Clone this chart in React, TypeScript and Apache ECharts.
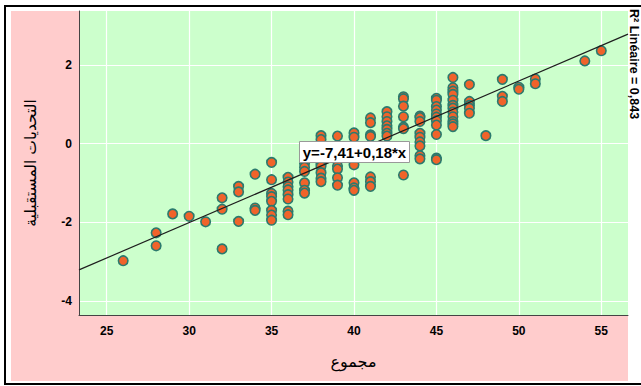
import React, { useEffect, useRef } from "react";
import * as echarts from "echarts";

// Sum score (x) and the future-challenges factor scores observed at each sum score (y)
const sumScores = [26, 28, 29, 30, 31, 32, 33, 34, 35, 36, 37, 38, 39, 40, 41, 42, 43, 44, 45, 46, 47, 48, 49, 50, 51, 54, 55];
const challengeScores: number[][] = [
  [-2.98],
  [-2.27, -2.6],
  [-1.79],
  [-1.85],
  [-1.99],
  [-1.38, -1.67, -2.68],
  [-1.09, -1.23, -1.98],
  [-0.78, -1.64, -1.7],
  [-0.48, -0.92, -1.27, -1.35, -1.47, -1.7, -1.82, -1.95],
  [-0.86, -0.98, -1.1, -1.18, -1.3, -1.41, -1.72, -1.81],
  [-0.33, -0.5, -0.6, -0.71, -1.0, -1.19, -1.26],
  [0.2, 0.1, -0.5, -0.58, -0.74, -0.88, -0.97],
  [0.19, -0.3, -0.41, -0.57, -0.65, -0.87, -1.06],
  [0.27, 0.16, -0.33, -0.46, -0.54, -1.0, -1.13, -1.19],
  [0.65, 0.53, 0.22, 0.18, -0.85, -0.97, -1.09],
  [0.81, 0.68, 0.56, 0.45, 0.36, 0.26, 0.19],
  [1.19, 1.14, 0.95, 0.68, 0.42, 0.38, -0.8],
  [0.7, 0.66, 0.56, 0.26, 0.16, 0.04, -0.06, -0.31, -0.39],
  [1.15, 1.1, 0.94, 0.85, 0.75, 0.67, 0.58, 0.47, 0.23, -0.37, -0.41],
  [1.68, 1.42, 1.33, 1.25, 1.1, 0.97, 0.9, 0.8, 0.68, 0.56, 0.5, 0.43],
  [1.5, 1.07, 0.97, 0.9, 0.77],
  [0.2],
  [1.63, 1.2, 1.07],
  [1.43, 1.38],
  [1.64, 1.52],
  [2.1],
  [2.36],
];

const xTicks = [25, 30, 35, 40, 45, 50, 55];
const yTicks = [-4, -2, 0, 2];
const xRange = [23.32, 56.62];
const yRange = [-4.36, 3.37];

const intercept = -7.41;
const slope = 0.18;
const rSquaredText = "R² Linéaire = 0,843";
const equationText = "y=-7,41+0,18*x";
const xTitle = "مجموع";
const yTitle = "التحديات المستقبلية";

const latin = "'Liberation Sans', Arial, sans-serif";
const arabic = "'DejaVu Sans', sans-serif";

export default function App() {
  const ref = useRef<HTMLDivElement>(null);

  useEffect(() => {
    if (!ref.current) return;
    const chart = echarts.init(ref.current, undefined, { renderer: "svg" });

    const points: number[][] = [];
    sumScores.forEach((x, i) => {
      challengeScores[i].forEach((y) => points.push([x, y]));
    });
    const linePts = xRange.map((x) => [x, intercept + slope * x]);

    chart.setOption({
      animation: false,
      graphic: [
        {
          type: "rect",
          z: -100,
          shape: { x: 11, y: 11, width: 617, height: 370 },
          style: { fill: "#ffcccc" },
          silent: true,
        },
        {
          type: "rect",
          z: -100,
          shape: { x: 5, y: 6, width: 700, height: 378 },
          style: { fill: "none", stroke: "#000", lineWidth: 2 },
          silent: true,
        },
        {
          type: "rect",
          z: 100,
          shape: { x: 299.5, y: 141.5, width: 110, height: 21 },
          style: { fill: "#ffffff", stroke: "#999999", lineWidth: 1 },
        },
        {
          type: "text",
          z: 101,
          x: 354.5,
          y: 152.5,
          style: {
            text: equationText,
            fill: "#000",
            font: `bold 15px ${latin}`,
            align: "center",
            verticalAlign: "middle",
          },
        },
        {
          type: "text",
          z: 101,
          x: 634,
          y: 9,
          rotation: -Math.PI / 2,
          style: {
            text: rSquaredText,
            fill: "#000",
            font: `bold 12.5px ${latin}`,
            align: "left",
            verticalAlign: "middle",
          },
        },
      ],
      grid: {
        left: 79,
        top: 11,
        width: 549,
        height: 304,
        show: true,
        backgroundColor: "#ccffcc",
        borderWidth: 0,
      },
      xAxis: {
        type: "value",
        min: xRange[0],
        max: xRange[1],
        name: xTitle,
        nameLocation: "middle",
        nameGap: 38,
        nameTextStyle: { fontFamily: arabic, fontSize: 16, color: "#000" },
        axisLine: { show: true, onZero: false, lineStyle: { color: "#444", width: 1 } },
        axisTick: { show: false, customValues: xTicks },
        axisLabel: {
          customValues: xTicks,
          margin: 10,
          fontFamily: latin,
          fontWeight: "bold",
          fontSize: 12,
          color: "#000",
        },
        splitLine: { show: true, lineStyle: { color: "#ffffff", width: 1.2 } },
      },
      yAxis: {
        type: "value",
        min: yRange[0],
        max: yRange[1],
        name: yTitle,
        nameLocation: "middle",
        nameRotate: 90,
        nameGap: 40,
        nameTextStyle: { fontFamily: arabic, fontSize: 15.5, color: "#000" },
        axisLine: { show: true, onZero: false, lineStyle: { color: "#444", width: 1 } },
        axisTick: { show: false, customValues: yTicks },
        axisLabel: {
          customValues: yTicks,
          margin: 7,
          fontFamily: latin,
          fontWeight: "bold",
          fontSize: 12,
          color: "#000",
        },
        splitLine: { show: true, lineStyle: { color: "#ffffff", width: 1.2 } },
      },
      series: [
        {
          type: "scatter",
          data: points,
          symbol: "circle",
          symbolSize: 9.5,
          itemStyle: { color: "#f0632a", borderColor: "#2b7a6e", borderWidth: 1.6, opacity: 1 },
          z: 2,
        },
        {
          type: "line",
          data: linePts,
          showSymbol: false,
          symbol: "none",
          lineStyle: { color: "#1e1e1e", width: 1.2 },
          z: 3,
        },
      ],
    });

    return () => chart.dispose();
  }, []);

  return (
    <div
      ref={ref}
      style={{ position: "fixed", left: 0, top: 0, width: 641, height: 386, background: "#ffffff" }}
    />
  );
}
